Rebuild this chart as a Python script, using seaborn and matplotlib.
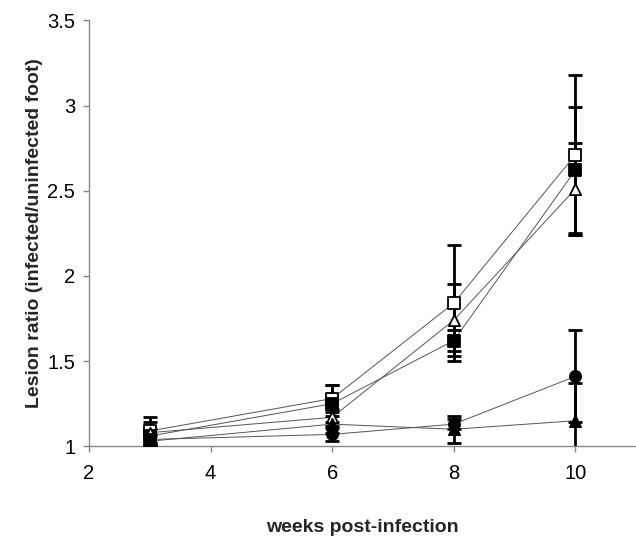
import matplotlib
matplotlib.use("Agg")
import matplotlib.pyplot as plt
import seaborn as sns
import pandas as pd

weeks = [3, 6, 8, 10]

series_names = ["open square", "filled square", "open triangle", "filled circle", "filled triangle"]
open_square = [1.09, 1.28, 1.84, 2.71]
open_square_err = [0.08, 0.08, 0.34, 0.47]
filled_square = [1.06, 1.25, 1.62, 2.62]
filled_square_err = [0.04, 0.11, 0.06, 0.37]
open_triangle = [1.08, 1.17, 1.74, 2.51]
open_triangle_err = [0.06, 0.05, 0.21, 0.27]
filled_circle = [1.04, 1.07, 1.13, 1.41]
filled_circle_err = [0.03, 0.04, 0.03, 0.27]
filled_triangle = [1.03, 1.13, 1.10, 1.15]
filled_triangle_err = [0.03, 0.05, 0.08, 0.22]

x_ticks = [2, 4, 6, 8, 10]
y_ticks = [1, 1.5, 2, 2.5, 3, 3.5]
y_tick_labels = ["1", "1.5", "2", "2.5", "3", "3.5"]

values = [open_square, filled_square, open_triangle, filled_circle, filled_triangle]
errors = [open_square_err, filled_square_err, open_triangle_err, filled_circle_err, filled_triangle_err]

rows = []
for name, vals, errs in zip(series_names, values, errors):
    for w, v, e in zip(weeks, vals, errs):
        rows.append({"series": name, "week": w, "ratio": v, "err": e})
df = pd.DataFrame(rows)

sns.set_theme(style="white")
plt.rcParams["font.family"] = ["Liberation Sans", "DejaVu Sans"]

fig = plt.figure(figsize=(6.36, 5.39), dpi=100)
ax = fig.add_axes([0.14, 0.172, 0.86, 0.79])

markers = {"open square": "s", "filled square": "s", "open triangle": "^",
           "filled circle": "o", "filled triangle": "^"}
faces = {"open square": "white", "filled square": "black", "open triangle": "white",
         "filled circle": "black", "filled triangle": "black"}

# connecting lines
sns.lineplot(data=df, x="week", y="ratio", units="series", estimator=None,
             color="#555555", linewidth=0.7, ax=ax, legend=False, zorder=2)

# error bars
for name in series_names:
    sub = df[df["series"] == name]
    ax.errorbar(sub["week"], sub["ratio"], yerr=sub["err"], fmt="none",
                ecolor="black", elinewidth=2.0, capsize=5, capthick=2.0, zorder=3)

# markers
for name in series_names:
    sub = df[df["series"] == name]
    sns.scatterplot(x=sub["week"], y=sub["ratio"], marker=markers[name],
                    color=faces[name], edgecolor="black", linewidth=1.3,
                    s=65, ax=ax, zorder=4, legend=False)

ax.set_xlim(2, 11)
ax.set_ylim(1, 3.5)
ax.set_xticks(x_ticks)
ax.set_xticklabels([str(t) for t in x_ticks])
ax.set_yticks(y_ticks)
ax.set_yticklabels(y_tick_labels)

for side in ["top", "right"]:
    ax.spines[side].set_visible(False)
for side in ["left", "bottom"]:
    ax.spines[side].set_color("#888888")
    ax.spines[side].set_linewidth(1.0)

ax.tick_params(axis="both", which="major", direction="out", length=4, width=1,
               color="#888888", labelsize=14.5, labelcolor="black", bottom=True, left=True)
ax.tick_params(axis="x", pad=9)
ax.tick_params(axis="y", pad=6)

ax.set_xlabel("weeks post-infection", fontsize=14, fontweight="bold", labelpad=26)
ax.set_ylabel("Lesion ratio (infected/uninfected foot)", fontsize=14, fontweight="bold", labelpad=14)
ax.yaxis.set_label_coords(-0.085, 0.5)

fig.savefig("out.png", dpi=100)
